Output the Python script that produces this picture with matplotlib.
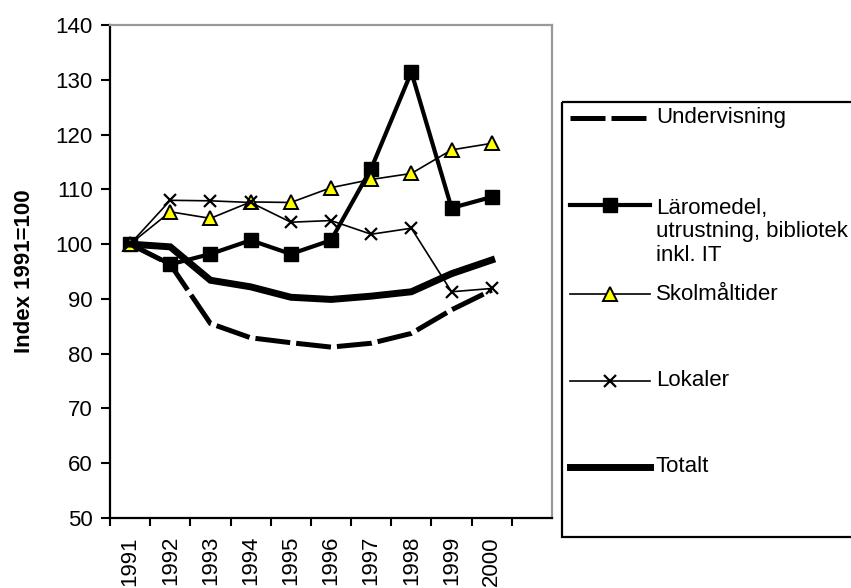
import numpy as np
import matplotlib
matplotlib.use("Agg")
import matplotlib.pyplot as plt
from matplotlib.patches import Rectangle

plt.rcParams['font.family'] = ['Liberation Sans', 'DejaVu Sans']
FS = 16

years = ["1991", "1992", "1993", "1994", "1995", "1996", "1997", "1998", "1999", "2000"]
undervisning = [100, 96.3, 85.5, 82.9, 82.0, 81.2, 81.9, 83.7, 88.0, 91.6]
laromedel = [100, 96.3, 98.2, 100.7, 98.2, 100.7, 113.8, 131.4, 106.6, 108.6]
skolmaltider = [100, 105.9, 104.7, 107.7, 107.6, 110.3, 111.8, 112.9, 117.2, 118.4]
lokaler = [100, 108.0, 107.9, 107.6, 104.0, 104.3, 101.8, 102.9, 91.3, 91.9]
totalt = [100, 99.5, 93.4, 92.2, 90.3, 89.9, 90.5, 91.3, 94.6, 97.1]

labels = ["Undervisning", "Läromedel,\nutrustning, bibliotek\ninkl. IT",
          "Skolmåltider", "Lokaler", "Totalt"]

styles = [
    dict(color="black", lw=3.6, dashes=(7, 1.2), solid_capstyle="butt", dash_capstyle="butt"),
    dict(color="black", lw=3.0, marker="s", ms=10, mfc="black", mec="black"),
    dict(color="black", lw=1.2, marker="^", ms=10.5, mfc="#FFFF00", mec="black", mew=1.4),
    dict(color="black", lw=1.2, marker="x", ms=9, mec="black", mew=1.6),
    dict(color="black", lw=5.0, solid_joinstyle="miter"),
]

fig = plt.figure(figsize=(8.51, 5.88), dpi=100)
ax = fig.add_axes([110 / 851, 1 - 518 / 588, 442 / 851, 493 / 588])

x = np.arange(len(years))
series = [undervisning, laromedel, skolmaltider, lokaler, totalt]
order = [4, 0, 1, 2, 3]
for i in order:
    ax.plot(x, series[i], zorder=3 + i, clip_on=False, **styles[i])

ax.set_xlim(-0.5, 10.5)
ax.set_ylim(50, 140)
ax.set_yticks(np.arange(50, 141, 10))
ax.set_xticks(np.arange(-0.5, 10, 1))
ax.set_xticklabels([])
ax.set_xticks(x, minor=True)
ax.set_xticklabels(years, minor=True, rotation=90, fontsize=FS)
ax.tick_params(axis="x", which="minor", length=0, pad=13)
ax.tick_params(axis="x", which="major", length=5.5, width=1.5, direction="out")
ax.tick_params(axis="y", length=6.5, width=1.5, direction="out", pad=6, labelsize=FS)

for s in ["left", "bottom"]:
    ax.spines[s].set_linewidth(1.6)
    ax.spines[s].set_color("black")
for s in ["top", "right"]:
    ax.spines[s].set_linewidth(1.6)
    ax.spines[s].set_color("#999999")

ax.set_ylabel("Index 1991=100", fontsize=FS, fontweight="bold")
ax.yaxis.set_label_coords(-0.17, 0.5)

# legend drawn by hand (Excel-style, box runs off the right edge)
lax = fig.add_axes([0, 0, 1, 1], zorder=10)
lax.set_xlim(0, 851)
lax.set_ylim(588, 0)
lax.axis("off")
lax.add_patch(Rectangle((562, 101.5), 400, 435, fill=False, lw=1.6, ec="black"))
leg_y = [118, 205, 294, 381, 467]
for i in range(5):
    st = dict(styles[i])
    lax.plot([570, 610, 650], [leg_y[i]] * 3, markevery=[1], **st)
    ty = leg_y[i] if i != 1 else leg_y[i] + 27
    lax.text(656, ty, labels[i], fontsize=FS, va="center", ha="left", linespacing=1.15)

fig.savefig("out.png", dpi=100)
